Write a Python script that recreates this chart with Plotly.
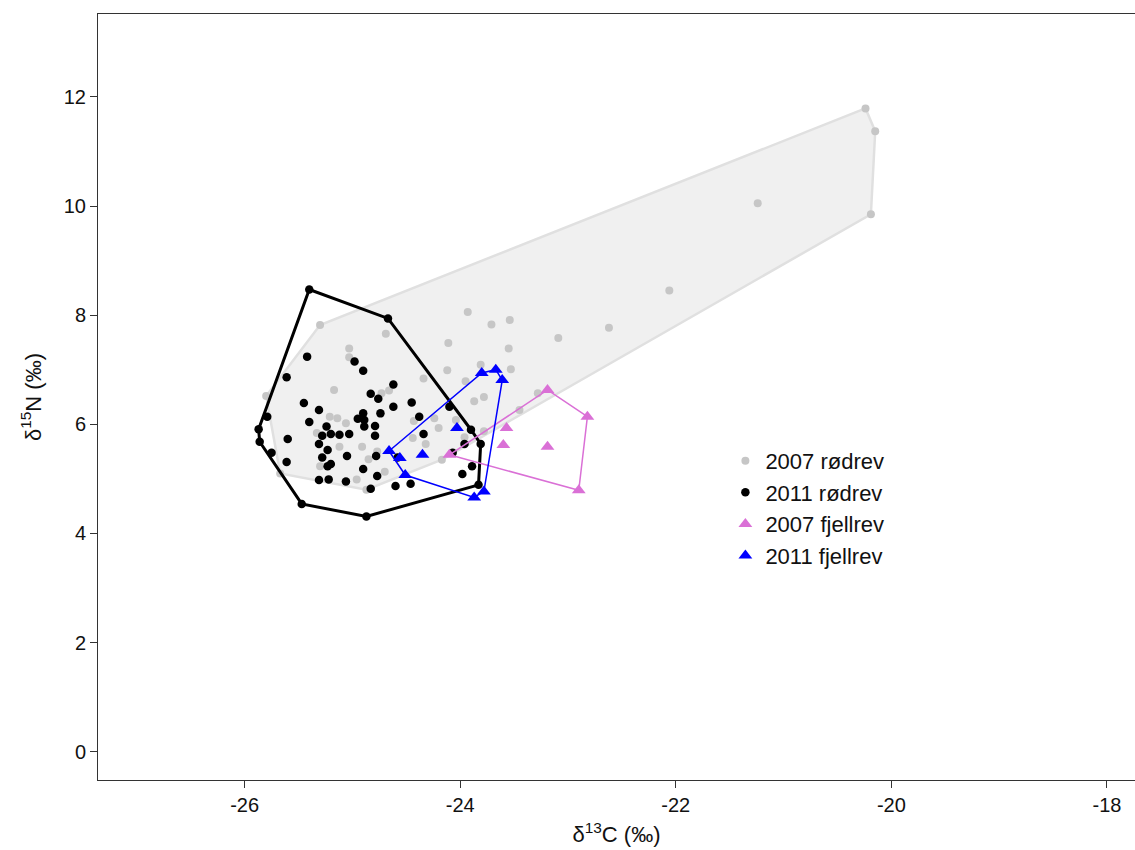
import plotly.graph_objects as go

# --- stable isotope values (delta 13C, delta 15N, per mil) ---
# 2007 red fox (rødrev)
rod2007_c = [-20.24, -20.15, -20.19, -24.87, -25.67, -25.80, -25.30,
             -21.24, -22.06, -23.93, -23.71, -23.54, -22.62, -23.09, -24.11,
             -23.55, -24.69, -25.03, -25.03, -24.12, -24.34, -23.81, -23.53,
             -25.17, -24.73, -24.66, -23.95, -23.78, -23.87, -25.21, -25.14,
             -25.06, -24.24, -24.43, -24.04, -24.20, -25.33, -24.91, -24.44,
             -24.32, -23.96, -23.78, -24.77, -24.17, -24.85, -24.70, -25.30,
             -24.96, -23.45, -23.28, -25.12]
rod2007_n = [11.79, 11.37, 9.85, 4.80, 5.10, 6.52, 7.82,
             10.05, 8.45, 8.06, 7.83, 7.91, 7.77, 7.58, 7.49,
             7.39, 7.66, 7.39, 7.23, 6.99, 6.84, 7.09, 7.01,
             6.63, 6.57, 6.62, 6.79, 6.50, 6.42, 6.14, 6.11,
             6.02, 6.11, 6.06, 6.08, 5.93, 5.84, 5.59, 5.75,
             5.64, 5.76, 5.87, 5.50, 5.35, 5.36, 5.13, 5.23,
             4.99, 6.26, 6.57, 5.59]

# 2011 red fox (rødrev)
rod2011_c = [-25.40, -24.67, -23.90, -23.81, -23.83, -24.87, -25.47, -25.75,
             -25.86, -25.87, -25.79,
             -25.42, -24.98, -24.90, -25.61, -24.62, -24.83, -24.76, -25.45,
             -24.62, -24.45, -25.31, -24.90, -24.74, -24.95, -24.38, -24.89,
             -25.40, -25.24, -24.89, -24.79, -25.20, -25.12, -25.03, -25.28,
             -24.79, -24.34, -25.60, -25.31, -25.23, -23.96, -24.10, -25.28,
             -25.05, -24.78, -25.61, -25.23, -25.20, -24.90, -24.07, -23.89,
             -23.98, -24.77, -25.31, -25.22, -25.06, -24.60, -24.46, -24.83,
             -24.58]
rod2011_n = [8.47, 7.94, 5.90, 5.64, 4.89, 4.31, 4.54, 5.48,
             5.68, 5.91, 6.14,
             7.24, 7.15, 6.98, 6.86, 6.73, 6.56, 6.47, 6.39,
             6.32, 6.40, 6.26, 6.20, 6.20, 6.10, 6.14, 6.08,
             6.04, 5.96, 5.96, 5.97, 5.82, 5.81, 5.82, 5.79,
             5.79, 5.82, 5.73, 5.64, 5.53, 5.64, 6.32, 5.39,
             5.42, 5.42, 5.31, 5.23, 5.27, 5.18, 5.48, 5.23,
             5.09, 5.05, 4.98, 4.99, 4.95, 4.87, 4.91, 4.82,
             5.39]

# 2007 arctic fox (fjellrev)
fjell2007_c = [-23.19, -22.82, -23.57, -23.60, -23.19, -24.10, -22.90]
fjell2007_n = [6.63, 6.14, 5.93, 5.62, 5.59, 5.44, 4.79]

# 2011 arctic fox (fjellrev)
fjell2011_c = [-23.80, -23.67, -23.61, -24.03, -24.35, -24.66, -24.56,
               -24.51, -23.87, -23.78]
fjell2011_n = [6.94, 7.00, 6.81, 5.93, 5.44, 5.51, 5.38,
               5.07, 4.66, 4.77]

x_ticks = [-26, -24, -22, -20, -18]
x_tick_labels = ["-26", "-24", "-22", "-20", "-18"]
y_ticks = [0, 2, 4, 6, 8, 10, 12]
y_tick_labels = ["0", "2", "4", "6", "8", "10", "12"]


def convex_hull(xs, ys):
    """Monotone-chain convex hull, returned as a closed ring."""
    pts = sorted(set(zip(xs, ys)))

    def cross(o, a, b):
        return (a[0] - o[0]) * (b[1] - o[1]) - (a[1] - o[1]) * (b[0] - o[0])

    lower, upper = [], []
    for p in pts:
        while len(lower) >= 2 and cross(lower[-2], lower[-1], p) <= 0:
            lower.pop()
        lower.append(p)
    for p in reversed(pts):
        while len(upper) >= 2 and cross(upper[-2], upper[-1], p) <= 0:
            upper.pop()
        upper.append(p)
    ring = lower[:-1] + upper[:-1]
    ring.append(ring[0])
    return [p[0] for p in ring], [p[1] for p in ring]


FONT = "Arial, Liberation Sans, sans-serif"
GREY_PT = "#c6c6c6"
PINK = "#da70d6"
BLUE = "#0000ff"

fig = go.Figure()

# 2007 red fox hull (filled area underneath everything)
hx, hy = convex_hull(rod2007_c, rod2007_n)
fig.add_trace(go.Scatter(x=hx, y=hy, mode="lines", fill="toself",
                         fillcolor="#f0f0f0",
                         line=dict(color="#e0e0e0", width=2.5),
                         showlegend=False, hoverinfo="skip"))

fig.add_trace(go.Scatter(x=rod2007_c, y=rod2007_n, mode="markers",
                         name="2007 rødrev", legendgroup="a", legendrank=1,
                         marker=dict(symbol="circle", size=8, color=GREY_PT)))

fig.add_trace(go.Scatter(x=rod2011_c, y=rod2011_n, mode="markers",
                         name="2011 rødrev", legendgroup="b", legendrank=2,
                         marker=dict(symbol="circle", size=8.5, color="black")))

hx, hy = convex_hull(rod2011_c, rod2011_n)
fig.add_trace(go.Scatter(x=hx, y=hy, mode="lines",
                         line=dict(color="black", width=3),
                         showlegend=False, hoverinfo="skip"))

hx, hy = convex_hull(fjell2007_c, fjell2007_n)
fig.add_trace(go.Scatter(x=hx, y=hy, mode="lines",
                         line=dict(color=PINK, width=1.5),
                         showlegend=False, hoverinfo="skip"))
fig.add_trace(go.Scatter(x=fjell2007_c, y=fjell2007_n, mode="markers",
                         name="2007 fjellrev", legendgroup="c", legendrank=3,
                         marker=dict(symbol="triangle-up", size=12, color=PINK)))

hx, hy = convex_hull(fjell2011_c, fjell2011_n)
fig.add_trace(go.Scatter(x=hx, y=hy, mode="lines",
                         line=dict(color=BLUE, width=1.5),
                         showlegend=False, hoverinfo="skip"))
fig.add_trace(go.Scatter(x=fjell2011_c, y=fjell2011_n, mode="markers",
                         name="2011 fjellrev", legendgroup="d", legendrank=4,
                         marker=dict(symbol="triangle-up", size=12, color=BLUE)))

axis_common = dict(
    showgrid=False, zeroline=False, showline=True, linecolor="#333333",
    linewidth=1, ticks="outside", ticklen=7, tickcolor="#333333",
    tickfont=dict(family=FONT, size=20, color="#111111"),
)

fig.update_layout(
    width=1135, height=850,
    margin=dict(l=98, r=0, t=14, b=70),
    plot_bgcolor="white", paper_bgcolor="white",
    font=dict(family=FONT, color="#111111"),
    xaxis=dict(range=[-27.36, -17.74], tickvals=x_ticks,
               ticktext=x_tick_labels, mirror=True,
               title=dict(text="δ<sup>13</sup>C (‰)", standoff=11,
                          font=dict(family=FONT, size=22)),
               **axis_common),
    yaxis=dict(range=[-0.52, 13.52], tickvals=y_ticks,
               ticktext=y_tick_labels,
               title=dict(text="δ<sup>15</sup>N (‰)", standoff=16,
                          font=dict(family=FONT, size=22)),
               **axis_common),
    legend=dict(x=0.605, y=0.444, xanchor="left", yanchor="top",
                bgcolor="rgba(0,0,0,0)", tracegroupgap=0,
                font=dict(family=FONT, size=22, color="#111111")),
)

fig.write_html("out.html")
